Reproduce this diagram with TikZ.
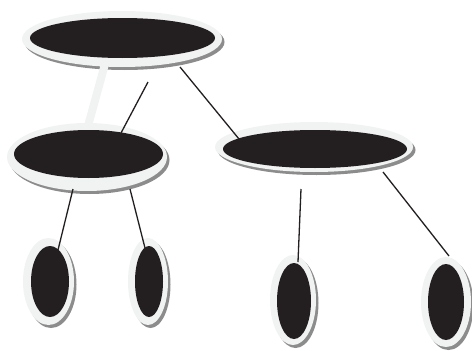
\documentclass[tikz,border=0pt]{standalone}
\usetikzlibrary{shapes.geometric,shadows}
\definecolor{ink}{HTML}{231F20}
\definecolor{ring}{HTML}{F1F2F2}
\definecolor{shade}{HTML}{8C8C8C}
\begin{document}
\begin{tikzpicture}[x=1pt,y=-1pt,
  outerell/.style={ellipse, inner sep=0pt, fill=ring,
    drop shadow={shadow xshift=2.5pt, shadow yshift=-3pt, opacity=1, fill=shade}},
  innerell/.style={ellipse, inner sep=0pt, fill=ink},
  link/.style={draw=ink, line width=1.3pt},
  thicklink/.style={draw=ring, line width=8pt}]
\useasboundingbox (0,0) rectangle (472,351);

% top
\node[outerell, minimum width=200pt, minimum height=56pt] (topO) at (122,39) {};
\node[innerell, minimum width=185pt, minimum height=40pt] (top) at (122.5,38) {};
% middle left
\node[outerell, minimum width=160pt, minimum height=68pt] (mlO) at (87,157) {};
\node[innerell, minimum width=149pt, minimum height=48pt] (ml) at (88.5,154) {};
% middle right
\node[outerell, minimum width=198pt, minimum height=50pt] (mrO) at (314,147) {};
\node[innerell, minimum width=184pt, minimum height=38pt] (mr) at (315,149) {};
% leaves
\node[outerell, minimum width=51pt, minimum height=87pt] (l1O) at (48.5,281.5) {};
\node[innerell, minimum width=38pt, minimum height=71pt] (l1) at (50,281.5) {};
\node[outerell, minimum width=40pt, minimum height=87pt] (l2O) at (148,281.5) {};
\node[innerell, minimum width=28pt, minimum height=71pt] (l2) at (149,281.5) {};
\node[outerell, minimum width=46pt, minimum height=90pt] (l3O) at (293,300) {};
\node[innerell, minimum width=34pt, minimum height=76pt] (l3) at (294,301) {};
\node[outerell, minimum width=50pt, minimum height=90pt] (l4O) at (446,302) {};
\node[innerell, minimum width=36pt, minimum height=76pt] (l4) at (446,302) {};

% connector end points
\coordinate (a1) at (105,64);  \coordinate (a2) at (88,126);
\coordinate (b1) at (148,82);  \coordinate (b2) at (121,133);
\coordinate (c1) at (180,67);  \coordinate (c2) at (239,139);
\coordinate (d1) at (73,189);  \coordinate (d2) at (58,250);
\coordinate (e1) at (130,189); \coordinate (e2) at (145,248);
\coordinate (f1) at (301,189); \coordinate (f2) at (298,262);
\coordinate (g1) at (383,172); \coordinate (g2) at (449,256);

\draw[thicklink] (a1) -- (a2);
\draw[link] (b1) -- (b2);
\draw[link] (c1) -- (c2);
\draw[link] (d1) -- (d2);
\draw[link] (e1) -- (e2);
\draw[link] (f1) -- (f2);
\draw[link] (g1) -- (g2);
\end{tikzpicture}
\end{document}
